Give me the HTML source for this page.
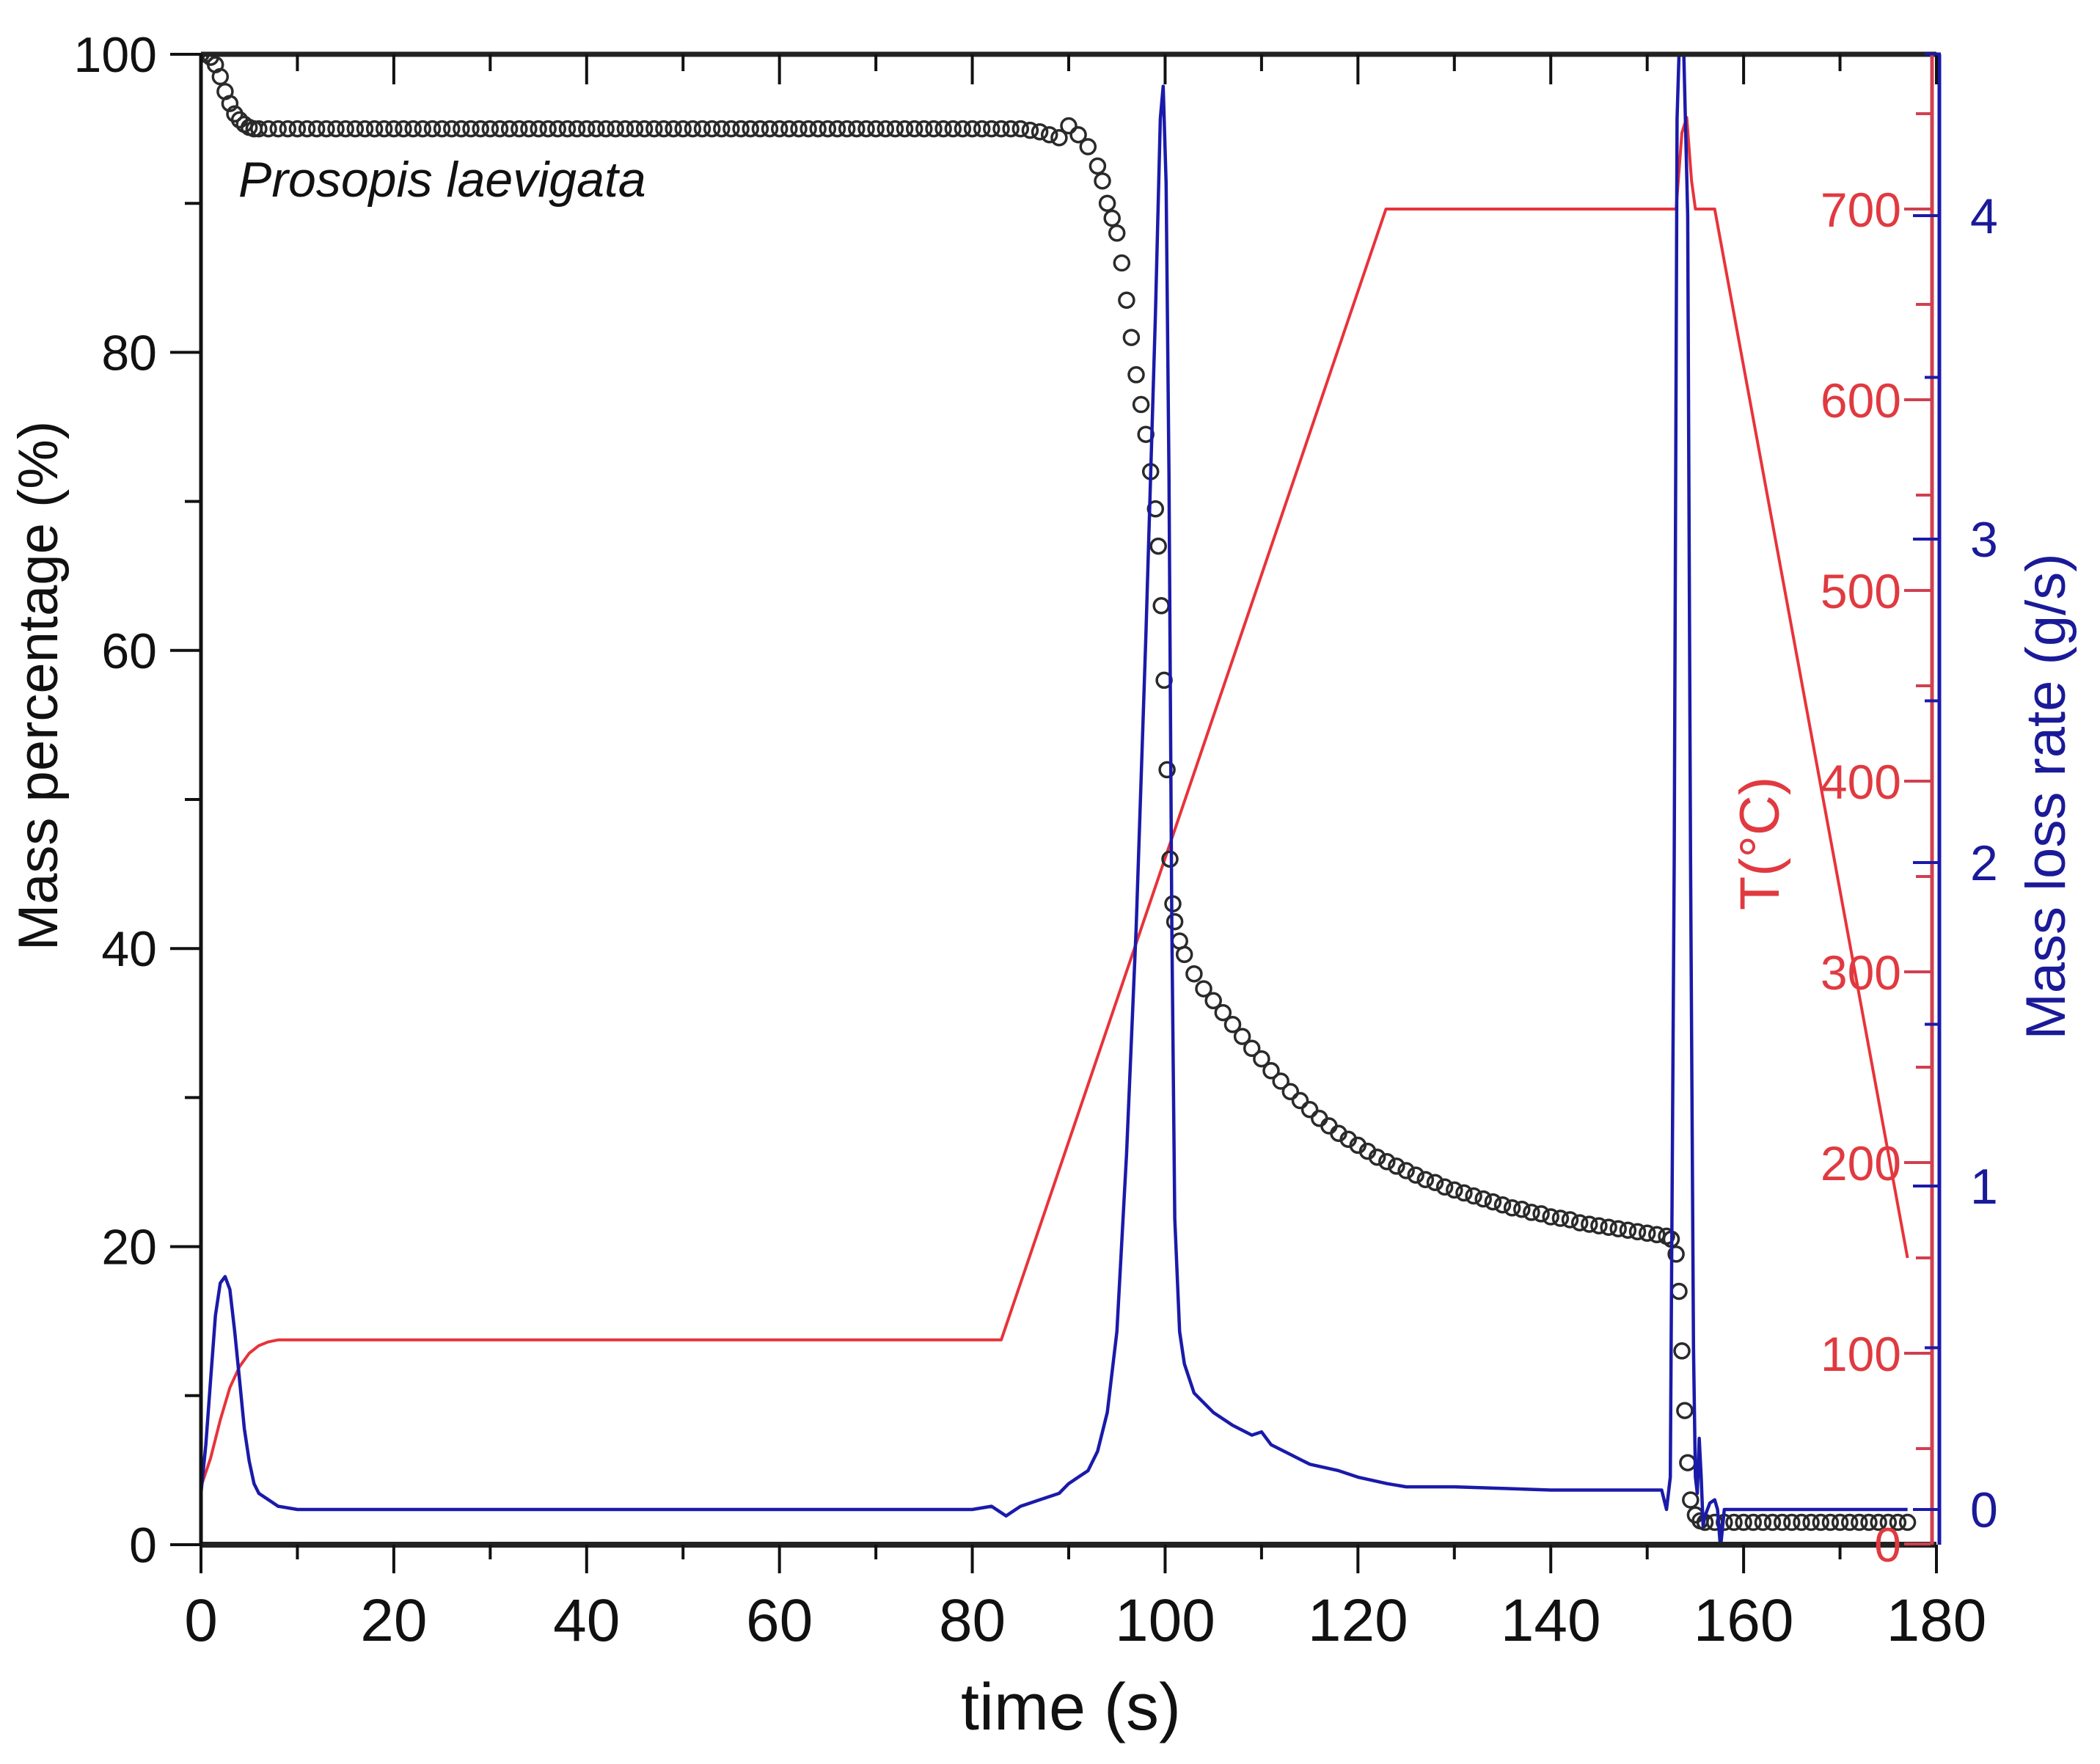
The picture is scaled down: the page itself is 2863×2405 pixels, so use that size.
<!DOCTYPE html>
<html><head><meta charset="utf-8"><style>
html,body{margin:0;padding:0;background:#fff;}
svg{display:block;font-family:"Liberation Sans",sans-serif;}
</style></head><body>
<svg id="chart" width="2863" height="2405" viewBox="0 0 2863 2405" xmlns="http://www.w3.org/2000/svg">
<defs><clipPath id="plotclip"><rect x="274" y="74" width="2366" height="2032"/></clipPath></defs>
<g id="marks" clip-path="url(#plotclip)"></g>
<g id="axes"></g>
</svg>
<script>
// ---- data ----
const massT = [0,0.5,1,1.5,2,2.5,3,3.5,4,4.5,5,5.5,6,7,8,9,10,11,12,13,14,15,16,17,18,19,20,21,22,23,24,25,26,27,28,29,30,31,32,33,34,35,36,37,38,39,40,41,42,43,44,45,46,47,48,49,50,51,52,53,54,55,56,57,58,59,60,61,62,63,64,65,66,67,68,69,70,71,72,73,74,75,76,77,78,79,80,81,82,83,84,85,86,87,88,89,90,91,92,93,93.5,94,94.5,95,95.5,96,96.5,97,97.5,98,98.5,99,99.3,99.6,99.9,100.2,100.5,100.8,101,101.5,102,103,104,105,106,107,108,109,110,111,112,113,114,115,116,117,118,119,120,121,122,123,124,125,126,127,128,129,130,131,132,133,134,135,136,137,138,139,140,141,142,143,144,145,146,147,148,149,150,151,152,152.5,153,153.3,153.6,153.9,154.2,154.5,155,155.5,156,157,158,159,160,161,162,163,164,165,166,167,168,169,170,171,172,173,174,175,176,177];
const massV = [100,100,99.8,99.3,98.5,97.5,96.7,96,95.6,95.3,95.1,95,95,95,95,95,95,95,95,95,95,95,95,95,95,95,95,95,95,95,95,95,95,95,95,95,95,95,95,95,95,95,95,95,95,95,95,95,95,95,95,95,95,95,95,95,95,95,95,95,95,95,95,95,95,95,95,95,95,95,95,95,95,95,95,95,95,95,95,95,95,95,95,95,95,95,95,95,95,95,95,95,94.9,94.8,94.6,94.4,95.2,94.6,93.8,92.5,91.5,90,89,88,86,83.5,81,78.5,76.5,74.5,72,69.5,67,63,58,52,46,43,41.8,40.5,39.6,38.3,37.3,36.5,35.7,34.9,34.1,33.3,32.6,31.8,31.1,30.4,29.8,29.2,28.6,28.1,27.6,27.2,26.8,26.4,26,25.7,25.4,25.1,24.8,24.5,24.3,24,23.8,23.6,23.4,23.2,23,22.8,22.6,22.5,22.3,22.2,22,21.9,21.8,21.6,21.5,21.4,21.3,21.2,21.1,21,20.9,20.8,20.7,20.5,19.5,17,13,9,5.5,3,2,1.6,1.5,1.5,1.5,1.5,1.5,1.5,1.5,1.5,1.5,1.5,1.5,1.5,1.5,1.5,1.5,1.5,1.5,1.5,1.5,1.5,1.5,1.5];
const tempT = [0,1,2,3,4,5,6,7,8,83,122.9,153,153.6,154.1,154.6,155,157,177];
const tempV = [30,45,65,82,93,100,104,106,107,107,700,700,740,748,715,700,700,150];
const rateT = [0,0.5,1,1.5,2,2.5,3,3.5,4,4.5,5,5.5,6,7,8,10,20,40,60,80,82,83.5,85,87,89,90,91,92,93,94,95,96,97,98,99,99.5,99.8,100.1,100.4,100.7,101,101.5,102,103,105,107,109,110,111,113,115,118,120,123,125,130,135,140,145,150,151.5,152,152.4,152.8,153.1,153.4,153.8,154.2,154.5,154.8,155,155.2,155.4,155.6,155.8,156,156.5,157,157.3,157.6,158,160,170,177];
const rateV = [0.05,0.2,0.4,0.6,0.7,0.72,0.68,0.55,0.4,0.25,0.15,0.08,0.05,0.03,0.01,0,0,0,0,0,0.01,-0.02,0.01,0.03,0.05,0.08,0.1,0.12,0.18,0.3,0.55,1.1,1.8,2.7,3.7,4.3,4.4,4.1,3.2,1.8,0.9,0.55,0.45,0.36,0.3,0.26,0.23,0.24,0.2,0.17,0.14,0.12,0.1,0.08,0.07,0.07,0.065,0.06,0.06,0.06,0.06,0.0,0.1,2.0,4.3,4.6,4.5,4.0,2.0,0.5,0.1,0.05,0.22,0.1,-0.05,-0.02,0.02,0.03,0.0,-0.12,0.0,0.0,0.0,0.0];
const xTicks = [0,20,40,60,80,100,120,140,160,180];
const yTicks = [0,20,40,60,80,100];
const tTicks = [0,100,200,300,400,500,600,700];
const rTicks = [0,1,2,3,4];

// ---- scales ----
const X0=274, X1=2640;
const xs = t => X0 + (t/180)*(X1-X0);
const ym = v => 2106 - v*20.32;
const yt = v => 2105 - v*2.6;
const yr = v => 2058 - v*441;
const NS="http://www.w3.org/2000/svg";
const marks=document.getElementById('marks'), axes=document.getElementById('axes');
function mk(tag, attrs, parent){const e=document.createElementNS(NS,tag);for(const k in attrs)e.setAttribute(k,attrs[k]);parent.appendChild(e);return e;}

// temperature line
let d = tempT.map((t,i)=>(i?'L':'M')+xs(t).toFixed(1)+' '+yt(tempV[i]).toFixed(1)).join(' ');
const tl = mk('path',{d:d,fill:'none',stroke:'#e8333a','stroke-width':4,'stroke-linejoin':'round'},marks);



// mass circles
const mg = mk('g',{},marks);


massT.forEach((t,i)=>{
  const c = mk('circle',{cx:xs(t).toFixed(1),cy:ym(massV[i]).toFixed(1),r:10,fill:'none',stroke:'#2a2a2a','stroke-width':3.5},mg);
  
  
});

// rate line
d = rateT.map((t,i)=>(i?'L':'M')+xs(t).toFixed(1)+' '+yr(rateV[i]).toFixed(1)).join(' ');
const rl = mk('path',{d:d,fill:'none',stroke:'#1a1aaa','stroke-width':4.5,'stroke-linejoin':'round'},marks);



// frame
mk('line',{x1:X0,y1:2106,x2:X1,y2:2106,stroke:'#222','stroke-width':8},axes);
mk('line',{x1:X0,y1:74,x2:X1,y2:74,stroke:'#222','stroke-width':7},axes);
mk('line',{x1:X0,y1:74,x2:X0,y2:2106,stroke:'#111','stroke-width':5},axes);
mk('line',{x1:2634,y1:74,x2:2634,y2:2106,stroke:'#d04050','stroke-width':5},axes);
mk('line',{x1:2644,y1:74,x2:2644,y2:2106,stroke:'#1a1aaa','stroke-width':5},axes);

// x ticks
for(let v=0; v<=180; v+=10){
  const maj = v%20===0;
  mk('line',{x1:xs(v),y1:2106,x2:xs(v),y2:maj?2145:2126,stroke:'#111','stroke-width':4},axes);
  mk('line',{x1:xs(v),y1:74,x2:xs(v),y2:maj?115:97,stroke:'#111','stroke-width':4},axes);
}
xTicks.forEach(v=>{
  const t=mk('text',{x:xs(v),y:2237,'font-size':82,'text-anchor':'middle',fill:'#111'},axes);
  t.textContent=v;
  
  
});
// left y ticks
for(let v=0; v<=100; v+=10){
  const maj=v%20===0;
  mk('line',{x1:X0,y1:ym(v),x2:maj?232:252,y2:ym(v),stroke:'#111','stroke-width':4},axes);
}
yTicks.forEach(v=>{
  const t=mk('text',{x:214,y:ym(v)+24,'font-size':68,'text-anchor':'end',fill:'#111'},axes);
  t.textContent=v;
  
  
});
// temperature axis ticks
for(let v=0; v<=750; v+=50){
  const maj=v%100===0;
  mk('line',{x1:2632,y1:yt(v),x2:maj?2596:2612,y2:yt(v),stroke:'#d04050','stroke-width':4},axes);
}
tTicks.forEach(v=>{
  const t=mk('text',{x:2592,y:yt(v)+24,'font-size':66,'text-anchor':'end',fill:'#e03a40'},axes);
  t.textContent=v;
  
  
});
// rate axis ticks
for(let v=0; v<=4.5; v+=0.5){
  const maj=Math.abs(v-Math.round(v))<1e-6;
  mk('line',{x1:2646,y1:yr(v),x2:maj?2608:2624,y2:yr(v),stroke:'#1a1aaa','stroke-width':4},axes);
}
rTicks.forEach(v=>{
  const t=mk('text',{x:2686,y:yr(v)+24,'font-size':68,'text-anchor':'start',fill:'#1a1a99'},axes);
  t.textContent=v;
  
  
});
</script>
<svg style="position:absolute;left:0;top:0" width="2863" height="2405" xmlns="http://www.w3.org/2000/svg" font-family="Liberation Sans, sans-serif">
<text x="1460" y="2358" font-size="90" text-anchor="middle" fill="#111">time (s)</text>
<text transform="translate(78,935) rotate(-90)" font-size="76" text-anchor="middle" fill="#111">Mass percentage (%)</text>
<text transform="translate(2425,1150) rotate(-90)" font-size="76" text-anchor="middle" fill="#e03a40">T(°C)</text>
<text transform="translate(2815,1086) rotate(-90)" font-size="76" text-anchor="middle" fill="#1a1a99">Mass loss rate (g/s)</text>
<text x="325" y="268" font-size="68" font-style="italic" fill="#111">Prosopis laevigata</text>
</svg>
</body></html>
